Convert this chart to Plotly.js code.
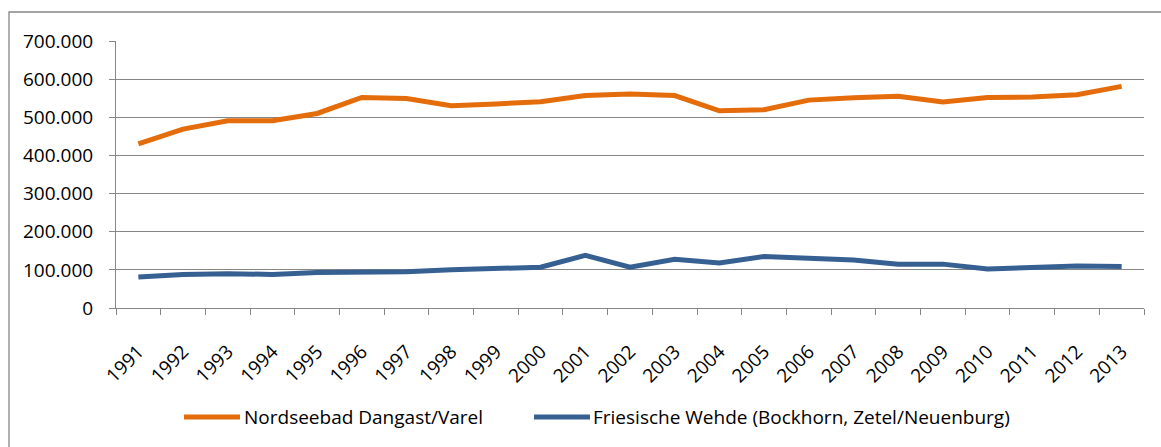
<!DOCTYPE html>
<html>
<head>
<meta charset="utf-8">
<script src="https://cdn.plot.ly/plotly-3.0.1.min.js"></script>
<style>
html,body{margin:0;padding:0;background:#fff;}
#chart{width:1161px;height:447px;}
</style>
</head>
<body>
<div id="chart"></div>
<script>
// ---- data ----
var years = ["1991","1992","1993","1994","1995","1996","1997","1998","1999","2000","2001","2002","2003","2004","2005","2006","2007","2008","2009","2010","2011","2012","2013"];
var seriesNames = ["Nordseebad Dangast/Varel", "Friesische Wehde (Bockhorn, Zetel/Neuenburg)"];
var dangast = [430000,469000,491000,491000,510000,552000,549000,530000,535000,541000,557000,561000,557000,517000,520000,545000,551000,555000,540000,552000,553000,559000,581000];
var wehde = [81000,88000,90000,88000,93000,94000,95000,100000,102000,107000,138000,107000,128000,118000,135000,131000,126000,115000,115000,102000,105000,110000,109000];
var colors = ["#E46C0A", "#376092"];

var FONT = "Open Sans, Noto Sans, sans-serif";
var GRAY = "#868686";

var traces = [dangast, wehde].map(function (vals, i) {
  return {
    type: "scatter", mode: "lines", x: years, y: vals, name: seriesNames[i],
    line: {color: colors[i], width: 5}, showlegend: false, hoverinfo: "skip"
  };
});

// custom legend (layout only)
var PL = 116, PW = 1028, PB = 308, PH = 267;
function px(x) { return (x - PL) / PW; }
function py(y) { return (PB - y) / PH; }
var legY = py(417);
var legItems = [{x0: 184, x1: 240, tx: 242}, {x0: 534, x1: 590, tx: 591}];
var shapes = [{
  type: "rect", xref: "paper", yref: "paper",
  x0: px(9), x1: 1.2, y0: -0.8, y1: py(12),
  line: {color: GRAY, width: 1.3}, fillcolor: "rgba(0,0,0,0)", layer: "below"
}];
var annotations = [];
legItems.forEach(function (it, i) {
  shapes.push({type: "line", xref: "paper", yref: "paper",
    x0: px(it.x0), x1: px(it.x1), y0: legY, y1: legY,
    line: {color: colors[i], width: 5}});
  annotations.push({xref: "paper", yref: "paper", x: px(it.tx), y: legY,
    xanchor: "left", yanchor: "middle", showarrow: false, text: seriesNames[i],
    font: {family: FONT, size: 19, color: "#000"}});
});

var layout = {
  width: 1161, height: 447,
  margin: {l: 116, r: 17, t: 41, b: 139},
  paper_bgcolor: "#fff", plot_bgcolor: "#fff",
  separators: ",.",
  font: {family: FONT, size: 19, color: "#000"},
  showlegend: false,
  hovermode: false,
  xaxis: {
    type: "category", range: [-0.5, years.length - 0.5], tickson: "boundaries",
    ticks: "outside", ticklen: 6,
    tickcolor: GRAY, tickwidth: 1, showline: true, linecolor: GRAY, linewidth: 1,
    showgrid: false, tickangle: -45, ticklabelstandoff: 24,
    tickfont: {family: FONT, size: 19, color: "#000"}
  },
  yaxis: {
    range: [0, 700000], dtick: 100000, tick0: 0, tickformat: ",d",
    ticks: "outside", ticklen: 6, tickcolor: GRAY, tickwidth: 1,
    showline: true, linecolor: GRAY, linewidth: 1,
    showgrid: true, gridcolor: GRAY, gridwidth: 1, zeroline: false,
    ticklabelstandoff: 12,
    tickfont: {family: FONT, size: 19, color: "#000"}
  },
  shapes: shapes,
  annotations: annotations
};

Plotly.newPlot("chart", traces, layout, {displayModeBar: false, staticPlot: true});
</script>
</body>
</html>
